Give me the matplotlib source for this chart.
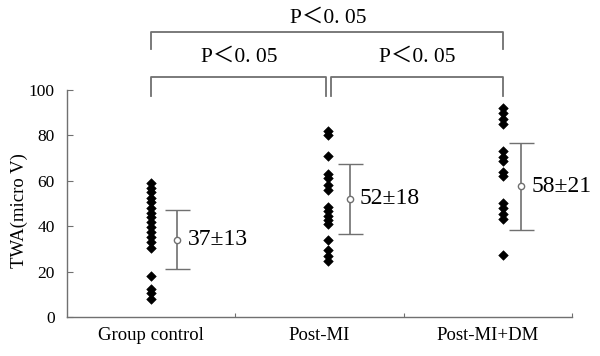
import matplotlib
matplotlib.use("Agg")
import matplotlib.pyplot as plt
import numpy as np

# ---------------- data ----------------
categories = ["Group control", "Post-MI", "Post-MI+DM"]
control_vals = [59, 57, 55, 52.5, 50.5, 48, 46, 44, 42, 39.5, 37.5, 35, 33, 30.5, 18, 12.5, 10.5, 8]
postmi_vals = [82, 80, 71, 63, 61, 58, 56, 48.5, 46.5, 44.5, 42.5, 41, 34, 29.5, 27, 24.5]
postmidm_vals = [92, 90, 87, 85, 73, 70.5, 68.5, 64, 62, 50, 48, 45.5, 43, 27.5]
means = [34, 52, 57.5]
sds = [13, 15.5, 19]
stat_labels = ["37±13", "52±18", "58±21"]
p_labels = ["P＜0. 05", "P＜0. 05", "P＜0. 05"]
yticks = [0, 20, 40, 60, 80, 100]

# ---------------- layout / style ----------------
serif = ["Liberation Serif", "DejaVu Serif"]
pfont = ["Liberation Serif", "Noto Sans CJK SC", "DejaVu Serif"]
gray = "#707070"
point_x = [0.50, 1.55, 2.59]
err_x = [0.655, 1.68, 2.70]
lab_x = [0.72, 1.74, 2.76]

fig = plt.figure(figsize=(6.0, 3.56), dpi=100)
ax = fig.add_axes([0.112, 0.1096, 0.841, 0.638])
ax.set_xlim(0, 3)
ax.set_ylim(0, 100)

groups = [control_vals, postmi_vals, postmidm_vals]
for i, vals in enumerate(groups):
    ax.scatter([point_x[i]] * len(vals), vals, marker="D", s=24, color="black",
               edgecolors="black", linewidths=0.4, zorder=3, clip_on=False)
    ax.errorbar([err_x[i]], [means[i]], yerr=[sds[i]], fmt="o", color=gray,
                ecolor=gray, elinewidth=1.2, capsize=9, capthick=1.2,
                markersize=4.5, markerfacecolor="white", markeredgecolor=gray,
                markeredgewidth=1.0, zorder=4)
    ax.text(lab_x[i], means[i], stat_labels[i], fontsize=17, family=serif,
            va="center", ha="left", color="black")

# spines & ticks
for s in ["top", "right"]:
    ax.spines[s].set_visible(False)
for s in ["left", "bottom"]:
    ax.spines[s].set_color(gray)
    ax.spines[s].set_linewidth(1.0)
ax.set_yticks(yticks)
ax.set_yticklabels([str(t) for t in yticks], family=serif, fontsize=12.5)
ax.tick_params(axis="y", direction="in", length=4, color=gray, pad=9)
ax.set_xticks([1, 2, 3])
ax.set_xticklabels([])
ax.tick_params(axis="x", direction="in", length=3, color=gray)
for i, c in enumerate(categories):
    ax.text(i + 0.5, -4.5, c, ha="center", va="top", fontsize=13.5, family=serif)
ax.set_ylabel("TWA(micro V)", family=serif, fontsize=13.5)
ax.yaxis.set_label_coords(-0.077, 0.47)

# significance brackets
def bracket(x0, x1, ytop, ybot, label, ytext, xtext):
    ax.plot([x0, x0, x1, x1], [ybot, ytop, ytop, ybot], color=gray, lw=1.3,
            clip_on=False)
    ax.text(xtext, ytext, label, ha="center", va="center", fontsize=15.5,
            family=pfont, color="black")

bracket(0.50, 1.54, 105.7, 97.5, p_labels[0], 114.5, 1.02)
bracket(1.57, 2.59, 105.7, 97.5, p_labels[1], 114.5, 2.08)
bracket(0.50, 2.59, 125.3, 118, p_labels[2], 131.7, 1.55)

fig.savefig("out.png", dpi=100, facecolor="white")
